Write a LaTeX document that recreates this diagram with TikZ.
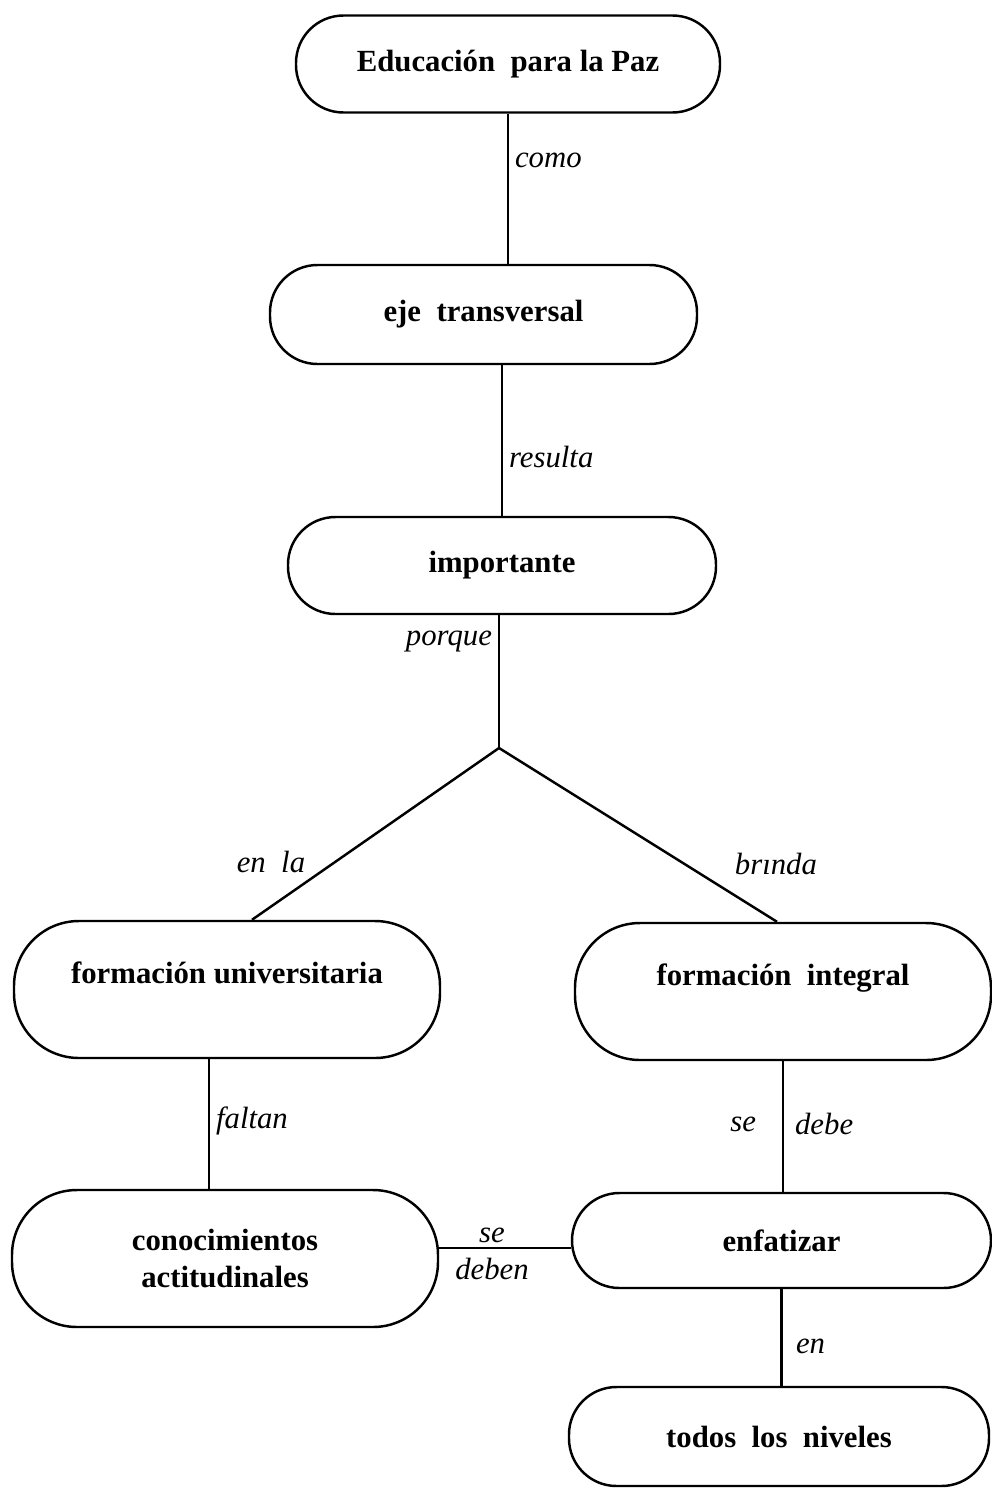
\documentclass[tikz,border=0pt]{standalone}
\usepackage{fontspec}
\setmainfont{Liberation Serif}
\usetikzlibrary{positioning}

\tikzset{
  concept/.style={draw, line width=1.4pt, rounded corners=0.95cm, align=center,
                  font=\fontsize{17.5}{21.5}\selectfont\bfseries},
  tallconcept/.style={concept, rounded corners=1.3cm},
  upper text/.style={text height=0.5cm, text depth=0.74cm},
  link/.style={font=\fontsize{17.5}{21}\selectfont\itshape},
}

\begin{document}
\begin{tikzpicture}[line width=1.4pt]
  \useasboundingbox (0,0) rectangle (19.84,-29.78);
  % concepts
  \node[concept, minimum width=8.48cm, minimum height=1.94cm] (paz) at (10.16,-1.28) {Educación\ \ para la Paz};
  \node[concept, minimum width=8.54cm, minimum height=1.98cm] (eje) at (9.67,-6.29) {eje\ \ transversal};
  \node[concept, minimum width=8.56cm, minimum height=1.94cm] (imp) at (10.04,-11.31) {importante};
  \node[tallconcept, upper text, minimum width=8.52cm, minimum height=2.74cm] (univ) at (4.54,-19.79) {formación universitaria};
  \node[tallconcept, upper text, minimum width=8.32cm, minimum height=2.74cm] (integ) at (15.66,-19.83) {formación\ \ integral};
  \node[tallconcept, minimum width=8.52cm, minimum height=2.74cm] (conoc) at (4.50,-25.17) {conocimientos\\actitudinales};
  \node[concept, minimum width=8.38cm, minimum height=1.90cm] (enf) at (15.63,-24.81) {enfatizar};
  \node[concept, minimum width=8.40cm, minimum height=1.98cm] (niv) at (15.58,-28.73) {todos\ \ los\ \ niveles};
  \coordinate (split) at (9.98,-14.96);   %branching point

  % links
  \draw (paz.south) -- node[link, pos=0.31, right] (como) {como} (paz.south |- eje.north);
  \draw (imp.north |- eje.south) -- node[link, pos=0.61, right] (resulta) {resulta} (imp.north);
  \draw (imp.south -| split) -- node[link, pos=0.2, left] (porque) {porque} (split);
  \draw (split) -- node[link, pos=0.665, left, xshift=-0.45cm] (enla) {en\ \ la} ([xshift=0.5cm]univ.north);
  \draw (split) -- node[link, pos=0.665, right, xshift=0.88cm] (brinda) {brında} ([xshift=-0.12cm]integ.north);
  \draw ([xshift=-0.36cm]univ.south) -- node[link, pos=0.48, right] (faltan) {faltan} ([xshift=-0.36cm]univ.south |- conoc.north);
  \draw (integ.south) -- node[link, pos=0.48, left, xshift=-0.4cm] (se1) {se}
        node[link, pos=0.48, right, xshift=0.1cm] (debe) {debe} (integ.south |- enf.north);
  \draw ([yshift=-0.15cm]enf.west -| conoc.east) -- node[link, above, inner sep=2pt, xshift=-0.26cm] (se2) {se}
        node[link, below, inner sep=2pt, xshift=-0.26cm, yshift=-0.1cm] (deben) {deben} ([yshift=-0.15cm]enf.west);
  \draw (enf.south) -- node[link, pos=0.59, right, xshift=0.15cm] (en) {en} (enf.south |- niv.north);
\end{tikzpicture}
\end{document}
